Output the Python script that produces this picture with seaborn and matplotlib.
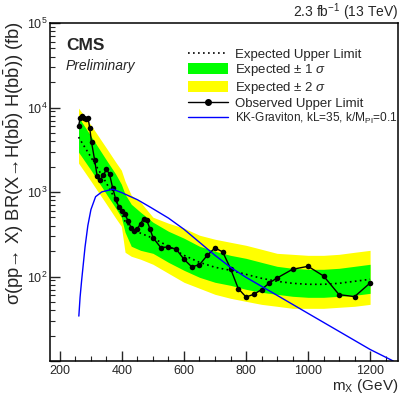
import matplotlib
matplotlib.use("Agg")
import math
import matplotlib.pyplot as plt
from matplotlib.lines import Line2D
from matplotlib.patches import Patch
from matplotlib.ticker import LogLocator, MultipleLocator, FuncFormatter
import seaborn as sns

# observed limit (fb)
obs_mass = [260, 265, 270, 277, 284, 291, 296, 302, 312, 320, 330, 340, 350, 360, 370, 380,
            390, 400, 410, 420, 430, 440, 450, 460, 470, 480, 490, 500,
            525, 550, 575, 600, 625, 650, 675, 700, 725, 750, 775, 800, 825, 850, 875, 900,
            950, 1000, 1050, 1100, 1150, 1200]
obs_limit = [6020, 7430, 7840, 7430, 7290, 7430, 5750, 3860, 2380, 1550, 1380, 1580, 1850, 1625, 1118, 821,
             666, 592, 546, 451, 375, 343, 369, 423, 485, 463, 369, 289,
             220, 224, 210, 160, 130, 138, 178, 218, 195, 124, 71.9, 57.2, 61.5, 70, 83.8, 96,
             121.7, 132, 101.4, 61, 57.8, 83.8]

# expected limit and bands (fb)
exp_mass = [260, 300, 350, 380, 398, 410, 430, 460, 500, 550, 600, 650, 700, 750, 800,
            850, 900, 950, 1000, 1050, 1100, 1150, 1200]
exp_limit = [4461, 2584, 1272, 799, 561, 451, 373, 325, 284, 228, 178, 147, 128.5, 118.4, 106,
             95.2, 87.7, 83.1, 80.8, 80.8, 83.1, 87.7, 92.6]
exp_p2 = [9840, 6190, 3304, 2255, 1813, 1343, 916, 757, 503, 427, 373, 308, 276, 254, 234,
          210, 188, 183, 178, 178, 183, 193.5, 204]
exp_p1 = [7700, 4580, 2381, 1625, 1237, 942, 717, 576, 439, 343, 284, 228, 199, 178, 164,
          147, 132, 125, 121.7, 121.7, 125, 132, 139.5]
exp_m1 = [2962, 1813, 942, 643, 503, 334, 228, 204, 188, 147, 118.4, 97.8, 85.4, 78.6, 70.5,
          65, 61.5, 58.3, 56.7, 56.7, 58.3, 59.9, 63.2]
exp_m2 = [2194, 1343, 717, 489, 393, 193.5, 173.5, 160, 139.5, 109, 85.4, 72.5, 61.5, 55.2, 50.8,
          46.8, 44.4, 42, 42, 42, 43.2, 44.4, 46.8]

# KK graviton theory curve (fb)
grav_mass = [261, 265, 270, 281, 290, 300, 315, 335, 370, 400, 450, 490, 550, 600, 700, 750,
             800, 900, 1000, 1100, 1200, 1270, 1290]
grav_xsec = [34, 57, 90, 224, 400, 620, 880, 1003, 1080, 980, 810, 666, 491, 362, 178, 128.5,
             97.8, 59.9, 36.6, 22.4, 13.7, 10.2, 9.2]

sns.set_style("ticks")
plt.rcParams["font.family"] = ["Liberation Sans", "DejaVu Sans"]
plt.rcParams["mathtext.fontset"] = "custom"
plt.rcParams["mathtext.rm"] = "Liberation Sans"
plt.rcParams["mathtext.it"] = "Liberation Sans:italic"
plt.rcParams["mathtext.bf"] = "Liberation Sans:bold"

fig = plt.figure(figsize=(3.99, 4.0), dpi=100)
ax = fig.add_axes([50 / 399, 1 - 361 / 400, 348 / 399, 338 / 400])

ax.fill_between(exp_mass, exp_m2, exp_p2, color="#ffff00", lw=0)
ax.fill_between(exp_mass, exp_m1, exp_p1, color="#00ff00", lw=0)
sns.lineplot(x=exp_mass, y=exp_limit, ax=ax, color="black", lw=1.2,
             linestyle=(0, (1.0, 2.0)), sort=False)
sns.lineplot(x=obs_mass, y=obs_limit, ax=ax, color="black", lw=1.0, marker="o",
             markersize=4, markeredgewidth=0, sort=False)
sns.lineplot(x=grav_mass, y=grav_xsec, ax=ax, color="#0000ff", lw=1.0, sort=False)

ax.set_yscale("log")
ax.set_xlim(168, 1290)
ax.set_ylim(10, 1e5)

ax.xaxis.set_major_locator(MultipleLocator(200))
ax.xaxis.set_minor_locator(MultipleLocator(50))
ax.yaxis.set_major_locator(LogLocator(base=10, numticks=10))
ax.yaxis.set_minor_locator(LogLocator(base=10, subs=range(2, 10), numticks=20))
ax.yaxis.set_major_formatter(FuncFormatter(
    lambda v, p: "" if v < 50 else r"$10^{%d}$" % round(math.log10(v))))
ax.tick_params(axis="x", which="major", pad=3)
ax.tick_params(axis="y", which="major", pad=2)
ax.tick_params(which="major", direction="in", length=7.2, width=1.0, labelsize=9,
               top=False, right=False)
ax.tick_params(which="minor", direction="in", length=3.6, width=0.8,
               top=False, right=False)
for s in ax.spines.values():
    s.set_linewidth(1.1)
    s.set_color("black")
ax.set_xlabel("")
ax.set_ylabel("")

fig.text(14 / 399, 1 - 21 / 400,
         r"σ(pp→ X) BR(X→H(b$\bar{\rm b}$) H(b$\bar{\rm b}$)) (fb)",
         rotation=90, ha="center", va="top", fontsize=13.2)
fig.text(398 / 399, 1 - 390 / 400, r"m$_{\rm X}$ (GeV)", ha="right", va="baseline", fontsize=11)
fig.text(398 / 399, 1 - 17 / 400, r"2.3 fb$^{-1}$ (13 TeV)", ha="right", va="baseline", fontsize=10)
fig.text(66 / 399, 1 - 50 / 400, "CMS", ha="left", va="baseline", fontsize=12.5, fontweight="bold")
fig.text(66 / 399, 1 - 70 / 400, "Preliminary", ha="left", va="baseline", fontsize=10, style="italic")

handles = [
    Line2D([], [], color="black", lw=1.2, linestyle=(0, (1.0, 2.0))),
    Patch(facecolor="#00ff00", edgecolor="none"),
    Patch(facecolor="#ffff00", edgecolor="none"),
    Line2D([], [], color="black", lw=1.0, marker="o", markersize=4),
    Line2D([], [], color="#0000ff", lw=1.0),
]
labels = [
    "Expected Upper Limit",
    r"Expected $\pm$ 1 $\sigma$",
    r"Expected $\pm$ 2 $\sigma$",
    "Observed Upper Limit",
    r"KK-Graviton, kL=35, k/M$_{\rm Pl}$=0.1",
]
leg = ax.legend(handles, labels, loc="upper left", bbox_to_anchor=(138 / 348, 1 - 25 / 338),
                frameon=False, fontsize=9.5, handlelength=3.0, handleheight=0.9,
                handletextpad=0.55, labelspacing=0.1, borderpad=0, borderaxespad=0)
leg.get_texts()[4].set_fontsize(8.6)

fig.savefig("out.png", dpi=100)
